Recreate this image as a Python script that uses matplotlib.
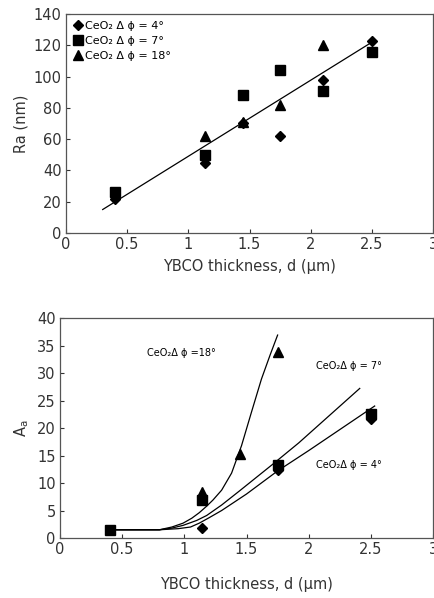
import numpy as np
import matplotlib
matplotlib.use('Agg')
import matplotlib.pyplot as plt

plt.rcParams['font.family'] = ['DejaVu Sans']

# top panel: Ra vs thickness
d_pts = [0.4, 1.14, 1.45, 1.75, 2.1, 2.5]
ra_4 = [22, 45, 70, 62, 98, 123]
ra_7 = [26, 50, 88, 104, 91, 116]
ra_18_x = [1.14, 1.45, 1.75, 2.1]
ra_18 = [62, 71, 82, 120]
fit_x = [0.3, 2.5]
fit_y = [15, 122]

# bottom panel: Aa vs thickness
aa_4_x = [0.4, 1.14, 1.75, 2.5]
aa_4 = [1.4, 1.8, 12.4, 21.6]
aa_7_x = [0.4, 1.14, 1.75, 2.5]
aa_7 = [1.5, 7.0, 13.2, 22.5]
aa_18_x = [1.14, 1.45, 1.75]
aa_18 = [8.3, 15.2, 33.8]

# guide curves
c18_x = [0.4, 0.8, 0.9, 0.99, 1.06, 1.12, 1.18, 1.23, 1.3, 1.38, 1.46, 1.54, 1.62, 1.69, 1.75]
c18_y = [1.5, 1.5, 2.0, 2.7, 3.6, 4.6, 5.8, 6.9, 8.7, 11.8, 16.8, 22.9, 28.9, 33.3, 36.9]
c7_x = [0.4, 0.8, 0.9, 0.99, 1.1, 1.18, 1.3, 1.44, 1.71, 1.92, 2.41]
c7_y = [1.5, 1.5, 1.8, 2.3, 3.2, 4.1, 6.0, 8.5, 13.4, 17.3, 27.2]
c4_x = [0.4, 0.8, 0.95, 1.05, 1.12, 1.2, 1.3, 1.5, 1.75, 2.0, 2.53]
c4_y = [1.5, 1.5, 1.7, 2.0, 2.7, 3.7, 5.0, 8.0, 12.2, 15.9, 24.0]

xticks = [0, 0.5, 1, 1.5, 2, 2.5, 3]
xticklabels = ['0', '0.5', '1', '1.5', '2', '2.5', '3']

fig = plt.figure(figsize=(4.34, 5.98), dpi=100)

def style(ax):
    for s in ax.spines.values():
        s.set_color('#555555')
        s.set_linewidth(0.9)
    ax.tick_params(direction='in', length=3, width=0.8, labelsize=10.5,
                   colors='#333333', pad=3)
    ax.set_xlim(0, 3)
    ax.set_xticks(xticks)
    ax.set_xticklabels(xticklabels)

ax1 = fig.add_axes([0.152, 0.6104, 0.846, 0.3662])
style(ax1)
ms = 6.5
ax1.plot(fit_x, fit_y, color='black', lw=0.9)
ax1.plot(d_pts, ra_4, 'D', color='black', ms=5.5, label='CeO\u2082 \u0394 \u03d5 = 4\u00b0')
ax1.plot(d_pts, ra_7, 's', color='black', ms=ms, label='CeO\u2082 \u0394 \u03d5 = 7\u00b0')
ax1.plot(ra_18_x, ra_18, '^', color='black', ms=ms + 0.5, label='CeO\u2082 \u0394 \u03d5 = 18\u00b0')
ax1.set_ylim(0, 140)
ax1.set_yticks(range(0, 141, 20))
ax1.set_ylabel('Ra (nm)', fontsize=10.5, color='#333333')
ax1.set_xlabel('YBCO thickness, d (\u03bcm)', fontsize=10.5, color='#333333', labelpad=5)
ax1.legend(loc='upper left', frameon=False, fontsize=8, handlelength=0.9,
           handletextpad=0.2, labelspacing=0.45, borderaxespad=0.3,
           borderpad=0.3)

ax2 = fig.add_axes([0.138, 0.1003, 0.86, 0.3679])
style(ax2)
ax2.plot(c18_x, c18_y, color='black', lw=0.9)
ax2.plot(c7_x, c7_y, color='black', lw=0.9)
ax2.plot(c4_x, c4_y, color='black', lw=0.9)
ax2.plot(aa_4_x, aa_4, 'D', color='black', ms=5.5)
ax2.plot(aa_7_x, aa_7, 's', color='black', ms=ms)
ax2.plot(aa_18_x, aa_18, '^', color='black', ms=ms)
ax2.text(0.7, 33.6, 'CeO\u2082\u0394 \u03d5 =18\u00b0', fontsize=7, va='center')
ax2.text(2.06, 31.3, 'CeO\u2082\u0394 \u03d5 = 7\u00b0', fontsize=7, va='center')
ax2.text(2.06, 13.3, 'CeO\u2082\u0394 \u03d5 = 4\u00b0', fontsize=7, va='center')
ax2.set_ylim(0, 40)
ax2.set_yticks(range(0, 41, 5))
ax2.set_ylabel('$\\mathregular{A_a}$', fontsize=10.5, color='#333333')
ax2.set_xlabel('YBCO thickness, d (\u03bcm)', fontsize=10.5, color='#333333', labelpad=14)

fig.savefig('out.png', dpi=100)
